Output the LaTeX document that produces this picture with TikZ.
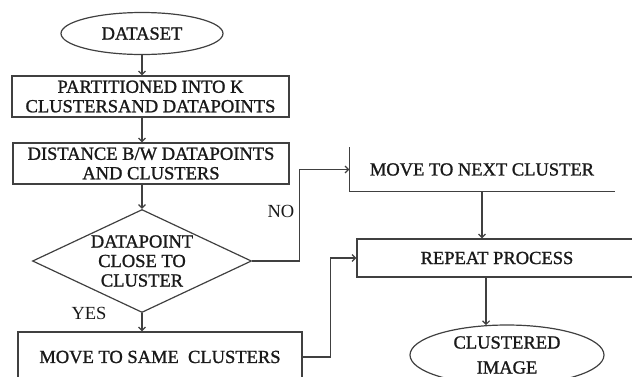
\documentclass[tikz,border=0pt]{standalone}
\usepackage{fontspec}
\setmainfont{Liberation Serif}
\newfontfamily\reffont{Liberation Serif}[FakeBold=1.2]
\usetikzlibrary{shapes.geometric,arrows.meta,calc}
\begin{document}
\begin{tikzpicture}[x=1pt,y=-1pt,line width=1.2pt,
  lbl/.style={font=\reffont\fontsize{18.5}{19.5}\selectfont, text=black!90},
  boxst/.style={draw=black!75, rectangle, inner sep=0pt, align=center, lbl},
  ell/.style={draw=black!75, ellipse, inner sep=0pt, align=center, lbl},
  arr/.style={draw=black!75, -{Straight Barb[length=3.5pt,width=7pt]}},
  ln/.style={draw=black!75}]
\useasboundingbox (0,0) rectangle (632,376);
\clip (0,0) rectangle (632,376);
\node[ell, minimum width=162pt, minimum height=42pt] (dataset) at (142,33.5) {DATASET};
\node[boxst, minimum width=277pt, minimum height=41pt] (part) at (150.5,96.5) {PARTITIONED INTO K\\CLUSTERSAND DATAPOINTS};
\node[boxst, minimum width=276pt, minimum height=41pt] (dist) at (151,163.5) {DISTANCE B/W DATAPOINTS\\AND CLUSTERS};
\node[draw=black!75, diamond, aspect=2.13, inner sep=0pt, minimum width=219pt, minimum height=103pt, align=center, lbl] (dec) at (142,261) {DATAPOINT\\CLOSE TO\\CLUSTER};
\node[boxst, minimum width=284pt, minimum height=50pt] (same) at (160,357) {MOVE TO SAME\ \ CLUSTERS};
\node[lbl, inner sep=0pt, minimum width=264pt, minimum height=43pt] (next) at (482,169.5) {MOVE TO NEXT CLUSTER};
\draw[ln] (next.north west) -- (next.south west) -- (next.south east);
\node[boxst, minimum width=280pt, minimum height=38pt] (rep) at (497,258) {REPEAT PROCESS};
\node[ell, minimum width=194pt, minimum height=60pt, font=\reffont\fontsize{18.5}{25}\selectfont] (clus) at (507,355) {CLUSTERED\\IMAGE};
\node[lbl, inner sep=0pt, font=\fontsize{18.5}{19.5}\selectfont] (no) at (281,211) {NO};
\node[lbl, inner sep=0pt, font=\fontsize{18.5}{19.5}\selectfont] (yes) at (89,313) {YES};
\draw[arr] (dataset.south) -- (dataset.south |- part.north);
\draw[arr] (dataset.south |- part.south) -- (dataset.south |- dist.north);
\draw[arr] (dec.north |- dist.south) -- (dec.north);
\draw[arr] (dec.south) -- (dec.south |- same.north);
\draw[arr] (dec.east) -- ++(47,0) |- (next.west);
\draw[arr] (next.south) -- (next.south |- rep.north);
\draw[arr] (same.east) -- ++(28,0) |- (rep.west);
\draw[arr] (clus.125 |- rep.south) -- (clus.125);
\end{tikzpicture}
\end{document}
